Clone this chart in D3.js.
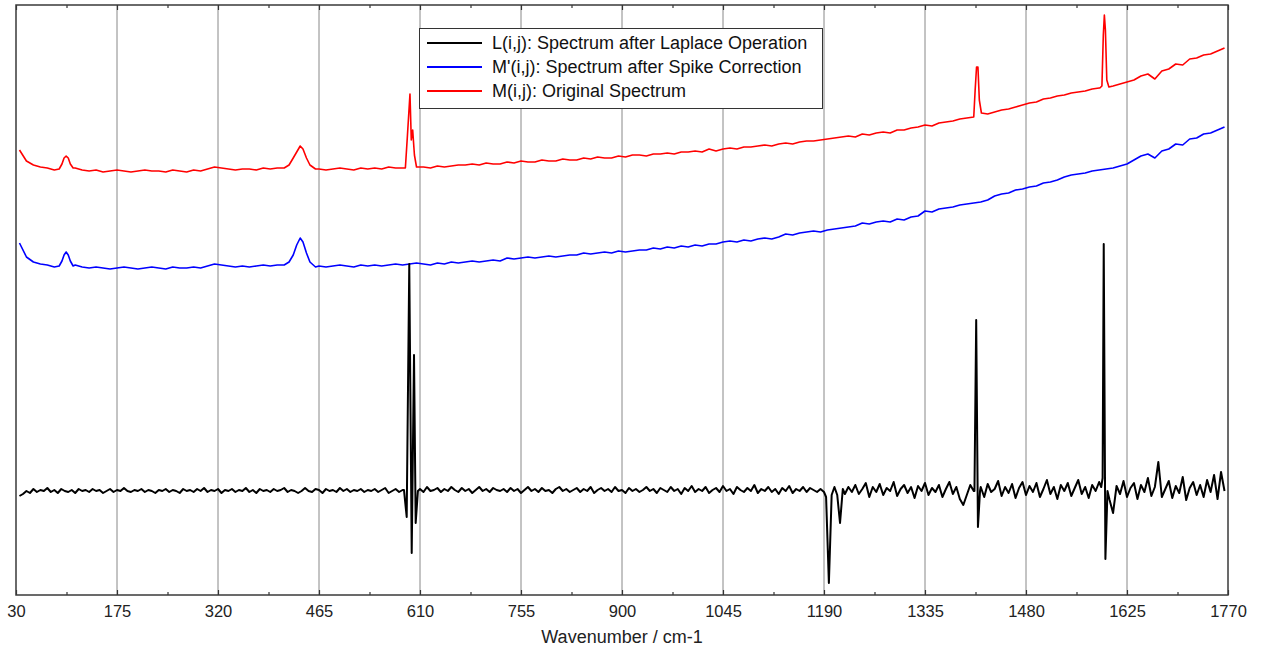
<!DOCTYPE html>
<html>
<head>
<meta charset="utf-8">
<script src="https://cdn.jsdelivr.net/npm/d3@7"></script>
<style>
  html, body { margin: 0; padding: 0; background: #fff; }
  svg { display: block; }
  text { font-family: "Liberation Sans", Arial, sans-serif; }
</style>
</head>
<body>
<svg id="chart" width="1275" height="650"></svg>
<script>
// ---------------- DATA ----------------
const xTicks = [30, 175, 320, 465, 610, 755, 900, 1045, 1190, 1335, 1480, 1625, 1770];
const xTitle = "Wavenumber / cm-1";
const legendLabels = [
  "L(i,j): Spectrum after Laplace Operation",
  "M'(i,j): Spectrum after Spike Correction",
  "M(i,j): Original Spectrum"
];

// Sampling grid of the spectra (wavenumber of first sample and spacing)
const gridStart = 35;
const specStep = 10;   // original / corrected spectra
const lapStep = 5;     // Laplace spectrum

// M(i,j): original spectrum, sampled every 10 cm-1 from 35
const origBase = [
  445,434,430,428,427,425,436,437,427,425,
  424,425,423,424,425,424,423,424,425,424,
  424,423,425,424,423,425,424,426,428,427,
  426,425,426,426,425,427,426,427,427,430,
  445,446,432,426,425,426,427,426,425,427,
  426,427,426,428,427,427,480,430,428,427,
  429,428,429,430,430,431,430,432,431,431,
  433,432,434,433,433,435,434,434,436,435,
  435,437,436,438,437,437,439,438,440,440,
  439,441,441,442,441,443,443,444,443,446,
  444,446,447,446,448,448,449,450,449,451,
  452,451,453,454,454,455,456,457,458,459,
  458,461,460,462,463,462,465,465,467,468,
  470,469,472,473,474,476,477,478,500,481,
  483,485,486,488,490,492,493,496,497,499,
  500,502,503,504,506,507,550,509,511,513,
  515,519,521,516,524,526,531,530,536,537,
  540,541,544,547
];
// peaks and spikes of the original spectrum, [wavenumber, intensity]
const origPeaks = [
  [[92,426],[96,431],[99,437],[102,439],[105,437],[108,431],[112,427]],
  [[415,427],[422,430],[428,437],[433,443],[438,449],[442,446],[447,437],[452,430],[460,426]],
  [[585,427],[589,427],[592,460],[595.6,501],[597.5,455],[599.5,465],[602,440],[605,428]],
  [[1405,478],[1407,505],[1409,528],[1411,528],[1413,495],[1416,482]],
  [[1586,507],[1589,509],[1591,560],[1592.5,580],[1594,565],[1596,515],[1599,508]]
];

// M'(i,j): spike-corrected spectrum, same grid
const corrBase = [
  352,338,333,331,330,328,336,340,330,328,
  327,328,327,326,327,328,327,326,327,328,
  327,326,328,327,327,328,327,329,331,330,
  329,328,329,328,329,330,329,330,330,333,
  355,350,335,329,328,329,330,329,328,330,
  329,330,329,330,331,330,331,332,331,330,
  332,331,333,332,333,334,333,334,335,334,
  337,336,337,338,337,338,339,338,339,340,
  340,342,341,342,343,342,344,343,344,345,
  345,347,346,348,347,349,348,350,349,351,
  351,353,354,353,355,354,356,357,356,358,
  361,360,362,363,364,363,365,366,367,368,
  369,372,371,373,374,373,376,375,378,379,
  384,383,386,387,388,390,391,392,393,395,
  399,401,402,405,406,408,409,412,413,415,
  418,420,421,422,424,425,426,427,429,431,
  435,439,441,437,444,446,451,450,456,457,
  461,462,465,468
];
const corrPeaks = [
  [[92,329],[96,334],[99,340],[102,343],[105,340],[108,334],[112,329]],
  [[415,330],[422,333],[428,340],[433,350],[438,357],[442,353],[447,342],[452,333],[460,328]]
];

// L(i,j): Laplace spectrum, sampled every 5 cm-1 from 35
const lapBase = [
  99,101,104,102,106,103,105,104,107,103,105,102,106,104,103,105,102,106,104,105,
  103,106,104,105,102,104,106,103,105,104,107,104,103,105,104,106,103,105,104,102,
  105,104,106,103,105,104,102,106,104,105,103,106,104,107,103,105,104,106,102,105,
  104,106,103,105,104,107,103,105,102,106,104,105,103,106,104,105,107,103,105,104,
  102,104,107,104,103,106,105,102,106,104,105,103,107,104,106,103,105,104,106,103,
  105,104,106,103,105,107,102,104,106,103,105,104,104,104,104,106,103,108,104,105,
  107,103,106,104,108,105,103,107,104,106,102,105,108,104,106,103,107,105,104,106,
  103,107,104,106,102,105,108,104,106,103,107,104,105,102,106,108,104,106,103,105,
  107,103,106,104,108,102,105,107,104,106,103,108,104,105,102,107,104,106,103,105,
  108,104,106,102,107,105,103,108,104,106,101,107,104,109,103,106,104,108,102,105,
  107,103,109,104,106,101,108,105,103,107,104,110,102,106,104,108,103,106,101,107,
  104,109,102,106,104,108,103,107,105,103,106,103,100,104,104,104,104,101,108,103,
  110,101,106,112,98,108,103,111,100,107,104,113,99,106,110,102,108,97,109,104,
  112,100,107,103,110,98,106,113,101,108,96,90,100,110,104,104,108,98,111,103,
  106,114,99,108,102,111,97,107,113,100,109,103,112,98,106,115,101,108,96,110,
  104,112,99,107,115,101,108,97,110,104,113,104,104,95,82,109,101,114,98,107,
  112,96,110,103,117,99,108,133,98,106,114,97,109,102,118,95,107,113,100,110,
  98,115,103,120,96,123,104
];
const lapSpikes = [
  [[587,105],[590.9,78],[594.6,331],[598.1,42],[601.4,240],[603.8,72],[607,104]],
  [[1190,103],[1193,98],[1197,12],[1201,100],[1205,108],[1209,100],[1213,72],[1217,106]],
  [[1406,104],[1408.5,275],[1411,68],[1414,104]],
  [[1588,108],[1590,117],[1591.6,351],[1594,36],[1597,104]]
];

const seriesColors = ["#000000", "#0000ff", "#ff0000"];

// ---------------- BUILD ----------------
(function () {
function buildSeries(base, step, groups) {
  let pts = base.map((v, i) => [gridStart + step * i, v]);
  groups.forEach(g => {
    const lo = g[0][0], hi = g[g.length - 1][0];
    pts = pts.filter(p => p[0] < lo || p[0] > hi).concat(g);
  });
  pts.sort((a, b) => a[0] - b[0]);
  return pts;
}

const orig = buildSeries(origBase, specStep, origPeaks);
const corr = buildSeries(corrBase, specStep, corrPeaks);
const lap = buildSeries(lapBase, lapStep, lapSpikes);

const svg = d3.select("#chart");
const L = 16, R = 1228, T = 5, B = 595;

const x = d3.scaleLinear().domain([30, 1770]).range([L, R]);
const y = d3.scaleLinear().domain([0, 590]).range([B, T]);

// gridlines
svg.append("g").selectAll("line")
  .data(xTicks.slice(1, -1))
  .join("line")
  .attr("x1", d => x(d)).attr("x2", d => x(d))
  .attr("y1", T).attr("y2", B)
  .attr("stroke", "#888").attr("stroke-width", 1);

// lines
const line = d3.line().x(d => x(d[0])).y(d => y(d[1]));
svg.append("clipPath").attr("id", "clip")
  .append("rect").attr("x", L).attr("y", T).attr("width", R - L).attr("height", B - T);

const plot = svg.append("g").attr("clip-path", "url(#clip)");
[[orig, seriesColors[2]], [corr, seriesColors[1]], [lap, seriesColors[0]]].forEach(([data, c]) => {
  plot.append("path").datum(data)
    .attr("d", line)
    .attr("fill", "none")
    .attr("stroke", c)
    .attr("stroke-width", c === "#000000" ? 2 : 1.6)
    .attr("stroke-linejoin", "round");
});

// axes
const minorTicks = xTicks.slice(0, -1).map((t, i) => (t + xTicks[i + 1]) / 2);

function styleAxis(g) {
  g.select(".domain").remove();
  g.selectAll("line").attr("stroke", "#333").attr("stroke-width", 1.2);
}

const bottomAxis = svg.append("g").attr("transform", `translate(0,${B})`)
  .call(d3.axisBottom(x).tickValues(xTicks).tickSizeInner(-5).tickSizeOuter(0).tickPadding(10).tickFormat(d3.format("d")));
styleAxis(bottomAxis);
bottomAxis.selectAll("text").attr("font-size", 16.5).attr("fill", "#222")
  .attr("font-family", "'Liberation Sans', Arial, sans-serif");

const bottomMinor = svg.append("g").attr("transform", `translate(0,${B})`)
  .call(d3.axisBottom(x).tickValues(minorTicks).tickSizeInner(-3).tickSizeOuter(0).tickFormat(""));
styleAxis(bottomMinor);

const topAxis = svg.append("g").attr("transform", `translate(0,${T})`)
  .call(d3.axisTop(x).tickValues(xTicks).tickSizeInner(-5).tickSizeOuter(0).tickFormat(""));
styleAxis(topAxis);
const topMinor = svg.append("g").attr("transform", `translate(0,${T})`)
  .call(d3.axisTop(x).tickValues(minorTicks).tickSizeInner(-3).tickSizeOuter(0).tickFormat(""));
styleAxis(topMinor);

// frame
svg.append("rect").attr("x", L).attr("y", T).attr("width", R - L).attr("height", B - T)
  .attr("fill", "none").attr("stroke", "#3a3a3a").attr("stroke-width", 1.5);

// axis title
svg.append("text").attr("x", (L + R) / 2).attr("y", 643)
  .attr("text-anchor", "middle").attr("font-size", 18).attr("fill", "#222")
  .text(xTitle);

// legend
const lg = svg.append("g");
lg.append("rect").attr("x", 419.5).attr("y", 28.5).attr("width", 403).attr("height", 80)
  .attr("fill", "#fff").attr("stroke", "#333").attr("stroke-width", 1);
legendLabels.forEach((lab, i) => {
  const yy = 43 + i * 24;
  lg.append("line").attr("x1", 427).attr("x2", 482).attr("y1", yy).attr("y2", yy)
    .attr("stroke", seriesColors[i]).attr("stroke-width", 1.8);
  lg.append("text").attr("x", 492).attr("y", yy).attr("dy", "0.35em")
    .attr("font-size", 18).attr("fill", "#111").text(lab);
});
})();
</script>
</body>
</html>
